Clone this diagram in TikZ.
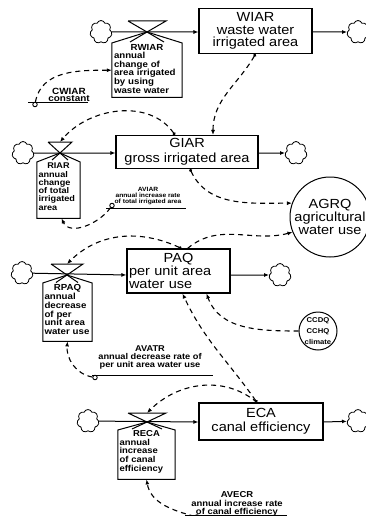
\documentclass[tikz,border=0pt]{standalone}
\usepackage{fontspec}
\setmainfont{Liberation Sans}[FakeStretch=1.1]
\usetikzlibrary{arrows.meta, shapes.symbols}

\begin{document}
\begin{tikzpicture}[x=1pt, y=-1pt, >={Latex[length=5pt,width=4pt]},
    stock/.style={draw, line width=1.1pt, inner sep=1pt, align=center, font=\fontsize{13.2}{12}\selectfont},
    ratebox/.style={anchor=north, inner sep=1.5pt, align=left, font=\fontsize{8.8}{8.6}\selectfont\bfseries},
    aux/.style={draw, circle, line width=1pt, inner sep=0pt, align=center},
    cnst/.style={draw, circle, line width=0.9pt, inner sep=0pt, minimum size=4.5pt},
    cnstlabel/.style={inner sep=0pt, align=center, font=\bfseries},
    cloudy/.style={draw, cloud, cloud puffs=7, cloud puff arc=140, cloud ignores aspect, line width=0.8pt, minimum width=22, minimum height=23, inner sep=0pt},
    flow/.style={->, line width=1pt},
    link/.style={->, line width=1.1pt, dash pattern=on 5pt off 4pt},
    dotstart/.style={{Circle[length=3pt]}->},
    valve/.style={line width=1pt}]
    \useasboundingbox (0,0) rectangle (365,516);

    \node[cloudy] (c1) at (101,32) {};
    \node[cloudy] (c2) at (358,32) {};
    \node[cloudy] (c3) at (23,153) {};
    \node[cloudy] (c4) at (296,153) {};
    \node[cloudy] (c5) at (22,273) {};
    \node[cloudy] (c6) at (280,275) {};
    \node[cloudy] (c7) at (88,421) {};
    \node[cloudy] (c8) at (358,421) {};

    \node[stock, minimum width=113, minimum height=45, font=\fontsize{13.2}{12.2}\selectfont] (wiar) at (255.5,31) {WIAR\\waste water\\irrigated area};
    \node[stock, minimum width=142, minimum height=33, font=\fontsize{13.2}{15}\selectfont] (giar) at (187,152) {GIAR\\gross irrigated area};
    \node[stock, minimum width=103, minimum height=44, text width=99, align=left, font=\fontsize{13.2}{12.6}\selectfont] (paq) at (178.5,271) {\hfill PAQ\hfill\null\\per unit area\\water use};
    \node[stock, minimum width=124, minimum height=37, font=\fontsize{13.2}{14}\selectfont] (eca) at (261,421.5) {ECA\\canal efficiency};

    \node[aux, minimum size=80, font=\fontsize{13.2}{13}\selectfont] (agrq) at (330,217) {AGRQ\\agricultural\\water use};
    \node[aux, minimum size=38, font=\fontsize{7}{11}\selectfont\bfseries] (ccdq) at (318,331) {CCDQ\\CCHQ\\climate};

    \coordinate (v1) at (147,32);
    \coordinate (v2) at (60,153);
    \coordinate (v3) at (67,275);
    \coordinate (v4) at (147,422);

    \node[ratebox, text width=66, minimum width=70, text height=5.5pt, text depth=45.5pt] (rwiar) at (147,43) {\hfill RWIAR\hfill\null\\annual\\change of\\area irrigated\\by using\\waste water};
    \node[ratebox, text width=40, minimum width=43, text height=5pt, text depth=48pt, font=\fontsize{8.3}{8.3}\selectfont\bfseries] (riar) at (58.5,162) {\hfill RIAR\hfill\null\\annual\\change\\of total\\irrigated\\area};
    \node[ratebox, text width=46, minimum width=49, text height=6pt, text depth=49pt, font=\fontsize{8.8}{8.8}\selectfont\bfseries] (rpaq) at (67.5,283) {\hfill RPAQ\hfill\null\\annual\\decrease\\of per\\unit area\\water use};
    \node[ratebox, text width=54, minimum width=57, text height=5pt, text depth=41pt, font=\fontsize{8.6}{8.6}\selectfont\bfseries] (reca) at (146.5,430) {\hfill RECA\hfill\null\\annual\\increase\\of canal\\efficiency};

    \draw[valve] (v1) ++(-19,-11) -- ++(38,0) -- (v1) -- ++(-17,10) (v1) ++(-19,-11) -- (v1) -- ++(17,10);
    \draw[valve] (v1) -- (rwiar.north east) -- (rwiar.south east) -- (rwiar.south west) -- (rwiar.north west) -- cycle;
    \draw[valve] (v2) ++(-12,-11) -- ++(24,0) -- (v2) -- ++(-8,7) (v2) ++(-12,-11) -- (v2) -- ++(8,7);
    \draw[valve] (v2) -- (riar.north east) -- (riar.south east) -- (riar.south west) -- (riar.north west) -- cycle;
    \draw[valve] (v3) ++(-16,-11) -- ++(32,0) -- (v3) -- ++(-11,7.5) (v3) ++(-16,-11) -- (v3) -- ++(11,7.5);
    \draw[valve] (v3) -- (rpaq.north east) -- (rpaq.south east) -- (rpaq.south west) -- (rpaq.north west) -- cycle;
    \draw[valve] (v4) ++(-19,-9) -- ++(38,0) -- (v4) -- ++(-15,7) (v4) ++(-19,-9) -- (v4) -- ++(15,7);
    \draw[valve] (v4) -- (reca.north east) -- (reca.south east) -- (reca.south west) -- (reca.north west) -- cycle;

    \draw[flow] (c1) -- (wiar.west |- v1);
    \draw[flow] (wiar.east |- v1) -- (c2);
    \draw[flow] (c3) -- (giar.west |- v2);
    \draw[flow] (giar.east |- v2) -- (c4);
    \draw[flow] (c5) -- (paq.west |- v3);
    \draw[flow] (paq.east |- v3) -- (c6);
    \draw[flow] (c7) -- (eca.west |- v4);
    \draw[flow] (eca.east |- v4) -- (c8);

    \node[cnstlabel, font=\fontsize{9}{7.8}\selectfont\bfseries] (cwiar) at (69,95) {CWIAR\\constant};
    \draw[line width=0.9pt] (28,102) -- (88,102);
    \node[cnst] (cwiarc) at (35,104.5) {};
    \node[cnstlabel, font=\fontsize{6.1}{5.8}\selectfont\bfseries] (aviar) at (148,196) {AVIAR\\annual increase rate\\of total irrigated area};
    \draw[line width=0.9pt] (106,208) -- (186,208);
    \node[cnst] (aviarc) at (112,205.5) {};
    \node[cnstlabel, font=\fontsize{8.4}{7.9}\selectfont\bfseries] (avatr) at (150,357.5) {AVATR\\annual decrease rate of\\per unit area water use};
    \draw[line width=0.9pt] (92,375) -- (213,375);
    \node[cnst] (avatrc) at (95,377.5) {};
    \node[cnstlabel, font=\fontsize{8.6}{8.7}\selectfont\bfseries] (avecr) at (237,504) {AVECR\\annual increase rate\\of canal efficiency};
    \draw[line width=0.9pt] (185,515) -- (287,515);
    \node[cnst] (avecrc) at (197,517) {};

    \draw[link] (cwiarc) to[out=80,in=180] (rwiar.west);
    \draw[link, dotstart] (wiar.south) to[out=240,in=90] ([xshift=26pt]giar.north);
    \draw[link, dotstart] ([xshift=-12pt]giar.north) to[out=125,in=50] ([yshift=11pt]v2);
    \draw[link, dotstart] ([xshift=3pt]giar.south) to[out=-65,in=180] (agrq.160);
    \draw[link] (aviarc) to[out=235,in=295] ([xshift=3pt]riar.south);
    \draw[link, dotstart] ([xshift=3pt]paq.north) to[out=155,in=45] ([yshift=11pt]v3);
    \draw[link] ([xshift=9pt]paq.north) to[out=40,in=195] (agrq.202);
    \draw[link] (ccdq.west) to[out=180,in=290] ([xshift=28pt]paq.south);
    \draw[link, dotstart] ([xshift=-4pt]eca.north) to[out=125,in=-65] ([xshift=4pt]paq.south);
    \draw[link] ([xshift=-4pt]eca.north) to[out=140,in=45] ([yshift=9pt]v4);
    \draw[link] (avatrc) to[out=170,in=265] (rpaq.south);
    \draw[link] (avecrc) to[out=165,in=280] (reca.south);
\end{tikzpicture}
\end{document}
